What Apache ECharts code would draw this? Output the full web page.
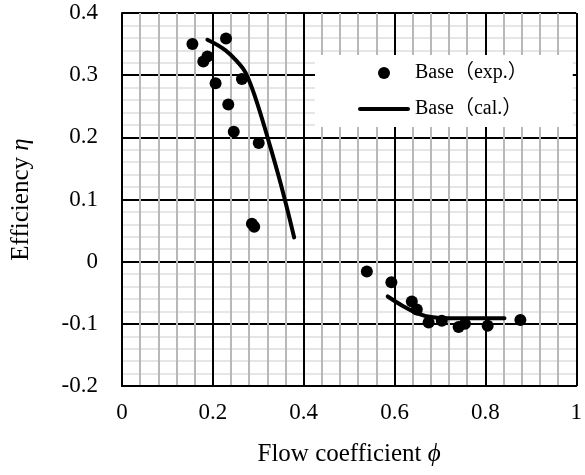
<!DOCTYPE html>
<html>
<head>
<meta charset="utf-8">
<script src="https://cdn.jsdelivr.net/npm/echarts@6/dist/echarts.min.js"></script>
<style>
  html, body { margin: 0; padding: 0; background: #fff; }
  #main { width: 585px; height: 475px; }
</style>
</head>
<body>
<div id="main"></div>
<script>
var xTicks = [0, 0.2, 0.4, 0.6, 0.8, 1];
var yTicks = [-0.2, -0.1, 0, 0.1, 0.2, 0.3, 0.4];

// Base (exp.) measured points [phi, eta]
var expPoints = [
    [0.155, 0.350], [0.229, 0.359], [0.188, 0.330], [0.179, 0.322],
    [0.206, 0.287], [0.264, 0.294], [0.234, 0.253], [0.246, 0.209],
    [0.301, 0.191], [0.286, 0.061], [0.291, 0.056],
    [0.539, -0.016], [0.593, -0.033], [0.638, -0.064], [0.649, -0.077],
    [0.675, -0.098], [0.704, -0.095], [0.741, -0.105], [0.755, -0.100],
    [0.805, -0.103], [0.877, -0.094]
];
// Base (cal.) curve, two branches
var calHigh = [
    [0.188, 0.357], [0.228, 0.340], [0.257, 0.319], [0.272, 0.304],
    [0.293, 0.265], [0.322, 0.196], [0.351, 0.121], [0.379, 0.039]
];
var calLow = [
    [0.585, -0.056], [0.620, -0.072], [0.650, -0.083], [0.680, -0.089],
    [0.720, -0.091], [0.842, -0.091]
];

var font = '"Times New Roman", "Liberation Serif", serif';
var legFont = '"Times New Roman", "Liberation Serif", "Noto Sans CJK JP", serif';

var chart = echarts.init(document.getElementById('main'));
chart.setOption({
    animation: false,
    backgroundColor: '#fff',
    grid: { left: 122, right: 4, top: 13, bottom: 89, containLabel: false },
    legend: {
        left: 315, top: 55,
        orient: 'vertical',
        backgroundColor: '#fff',
        padding: [8, 45, 8, 43],
        itemWidth: 52, itemHeight: 12, itemGap: 16,
        textStyle: { fontFamily: legFont, fontSize: 20, color: '#000' },
        data: [
            { name: 'Base（exp.）', icon: 'circle' },
            { name: 'Base（cal.）', icon: 'path://M2,0 L50,0 A2,2 0 0 1 50,4 L2,4 A2,2 0 0 1 2,0 Z' }
        ],
        z: 10
    },
    xAxis: {
        type: 'value', min: xTicks[0], max: xTicks[xTicks.length - 1], interval: 0.2,
        name: '{t|Flow coefficient }{i|ϕ}',
        nameLocation: 'middle', nameGap: 56,
        nameTextStyle: {
            rich: {
                t: { fontFamily: font, fontSize: 25, color: '#000' },
                i: { fontFamily: font, fontSize: 25, fontStyle: 'italic', color: '#000' }
            }
        },
        axisLine: { show: true, onZero: false, lineStyle: { color: '#000', width: 2 } },
        axisTick: { show: false },
        axisLabel: { fontFamily: font, fontSize: 23, color: '#000', margin: 15 },
        splitLine: { show: true, lineStyle: { color: '#000', width: 2 } },
        minorTick: { show: false, splitNumber: 5 },
        minorSplitLine: { show: true, lineStyle: { color: '#b8b8b8', width: 2 } }
    },
    yAxis: {
        type: 'value', min: yTicks[0], max: yTicks[yTicks.length - 1], interval: 0.1,
        name: '{t|Efficiency }{i|η}',
        nameLocation: 'middle', nameGap: 88,
        nameTextStyle: {
            rich: {
                t: { fontFamily: font, fontSize: 25, color: '#000' },
                i: { fontFamily: font, fontSize: 25, fontStyle: 'italic', color: '#000' }
            }
        },
        axisLine: { show: true, onZero: false, lineStyle: { color: '#000', width: 2 } },
        axisTick: { show: false },
        axisLabel: { fontFamily: font, fontSize: 23, color: '#000', margin: 24 },
        splitLine: { show: true, lineStyle: { color: '#000', width: 2 } },
        minorTick: { show: false, splitNumber: 5 },
        minorSplitLine: { show: true, lineStyle: { color: '#e6e6e6', width: 2 } }
    },
    series: [
        {
            name: 'Base（exp.）', type: 'scatter', data: expPoints,
            symbol: 'circle', symbolSize: 12,
            itemStyle: { color: '#000', opacity: 1 }, z: 5
        },
        {
            name: 'Base（cal.）', type: 'line', data: calHigh, smooth: 0.4,
            showSymbol: false, symbol: 'none',
            lineStyle: { color: '#000', width: 4, cap: 'round' },
            itemStyle: { color: '#000' }, z: 4
        },
        {
            name: 'Base（cal.）', type: 'line', data: calLow, smooth: 0.4,
            showSymbol: false, symbol: 'none',
            lineStyle: { color: '#000', width: 4, cap: 'round' },
            itemStyle: { color: '#000' }, z: 4
        }
    ]
});
</script>
</body>
</html>
